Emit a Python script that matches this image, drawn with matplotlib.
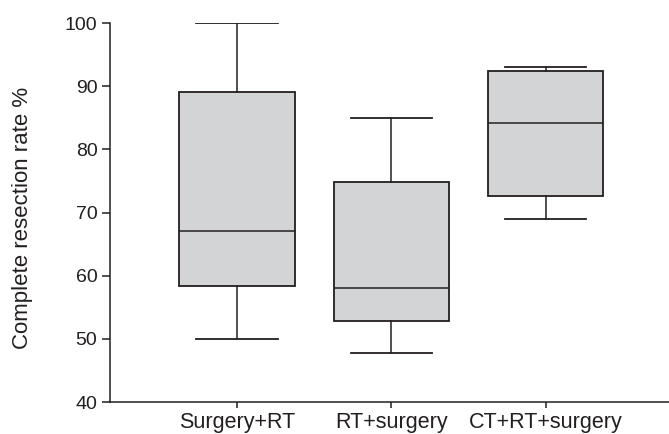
import matplotlib
matplotlib.use("Agg")
import matplotlib.pyplot as plt

plt.rcParams['font.family'] = ['Liberation Sans', 'DejaVu Sans']

# Five-number summaries for each treatment group
groups = ["Surgery+RT", "RT+surgery", "CT+RT+surgery"]
whisker_low = [50.0, 47.8, 69.0]
q1 = [58.3, 52.8, 72.6]
median = [67.0, 58.0, 84.1]
q3 = [89.0, 74.9, 92.4]
whisker_high = [100.0, 85.0, 93.1]

y_ticks = [40, 50, 60, 70, 80, 90, 100]

ink = "#231f20"
box_fill = "#d3d4d6"

fig = plt.figure(figsize=(6.69, 4.34), dpi=100)
ax = fig.add_axes([0.1644, 0.0737, 0.8356, 0.8733])

stats = []
for name, lo, a, m, b, hi in zip(groups, whisker_low, q1, median, q3, whisker_high):
    stats.append(dict(label=name, whislo=lo, q1=a, med=m, q3=b, whishi=hi, fliers=[]))

ax.bxp(stats, positions=[1, 2, 3], widths=0.75, patch_artist=True, showfliers=False,
       boxprops=dict(facecolor=box_fill, edgecolor=ink, linewidth=1.3),
       medianprops=dict(color=ink, linewidth=1.1),
       whiskerprops=dict(color=ink, linewidth=1.1),
       capprops=dict(color=ink, linewidth=1.3),
       capwidths=0.53)

ax.set_xlim(0.175, 3.8)
ax.set_ylim(40, 100)
ax.set_yticks(y_ticks)
ax.set_xticks([1, 2, 3])
ax.set_xticklabels(groups)

for side in ("top", "right"):
    ax.spines[side].set_visible(False)
for side in ("left", "bottom"):
    ax.spines[side].set_color(ink)
    ax.spines[side].set_linewidth(1.1)

ax.tick_params(axis="both", colors=ink, labelcolor=ink, length=5, width=1.1)
ax.tick_params(axis="y", labelsize=14, length=5.5, pad=3.5)
ax.tick_params(axis="x", labelsize=15.5, length=4, pad=3)
ax.set_ylabel("Complete resection rate %", fontsize=16, color=ink)
ax.yaxis.set_label_coords(-0.138, 0.485)

fig.savefig("out.png", dpi=100)
